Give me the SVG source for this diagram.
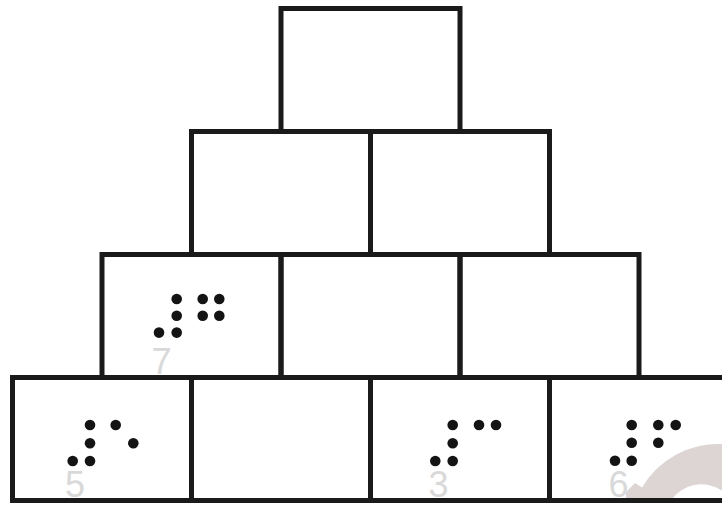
<svg xmlns="http://www.w3.org/2000/svg" width="722" height="505" viewBox="0 0 722 505">
  <style>
    .box { fill: none; stroke: #1a1a1a; stroke-width: 5; stroke-linejoin: miter; }
    .dot { fill: #141414; }
    .num { font-family: "Liberation Sans", Arial, sans-serif; font-size: 36px; fill: #d9d9d9; }
    .mark { fill: #ddd4d4; }
  </style>
  <defs>
    <circle id="d" r="5.3"/>
  </defs>
  <rect width="722" height="505" fill="#ffffff"/>

  <path class="mark" d="M626,501 L626,492 L635,483 L642,487.6 A88 88 0 0 1 722,444.1 L722,490.5 A37 37 0 0 0 670.5,501 Z"/>

  <g id="labels">
    <text class="num" x="151.5" y="374">7</text>
    <text class="num" x="65" y="497">5</text>
    <text class="num" x="428.5" y="497">3</text>
    <text class="num" x="608.5" y="497">6</text>
  </g>

  <g id="boxes">
    <g id="r1c1"><rect class="box" x="281" y="8.5" width="179" height="123"/></g>
    <g id="r2c1"><rect class="box" x="191.5" y="131.5" width="179" height="123"/></g>
    <g id="r2c2"><rect class="box" x="370.5" y="131.5" width="179" height="123"/></g>
    <g id="r3c1">
      <rect class="box" x="102" y="254.5" width="179" height="123"/>
      <g class="dot">
        <use href="#d" x="176.7" y="299"/><use href="#d" x="202.7" y="299"/><use href="#d" x="219.3" y="299"/>
        <use href="#d" x="176.7" y="315.8"/><use href="#d" x="202.7" y="315.8"/><use href="#d" x="219.3" y="315.8"/>
        <use href="#d" x="159" y="332.6"/><use href="#d" x="176.7" y="332.6"/>
      </g>
    </g>
    <g id="r3c2"><rect class="box" x="281" y="254.5" width="179" height="123"/></g>
    <g id="r3c3"><rect class="box" x="460" y="254.5" width="179" height="123"/></g>
    <g id="r4c1">
      <rect class="box" x="12.5" y="377.5" width="179" height="123"/>
      <g class="dot">
        <use href="#d" x="90" y="425"/><use href="#d" x="115.7" y="425"/>
        <use href="#d" x="90" y="443.2"/><use href="#d" x="133.3" y="443.2"/>
        <use href="#d" x="72.7" y="461"/><use href="#d" x="90" y="461"/>
      </g>
    </g>
    <g id="r4c2"><rect class="box" x="191.5" y="377.5" width="179" height="123"/></g>
    <g id="r4c3">
      <rect class="box" x="370.5" y="377.5" width="179" height="123"/>
      <g class="dot">
        <use href="#d" x="452.7" y="425"/><use href="#d" x="479" y="425"/><use href="#d" x="496" y="425"/>
        <use href="#d" x="452.7" y="443.2"/>
        <use href="#d" x="435.3" y="461"/><use href="#d" x="452.7" y="461"/>
      </g>
    </g>
    <g id="r4c4">
      <rect class="box" x="549.5" y="377.5" width="179" height="123"/>
      <g class="dot">
        <use href="#d" x="631.7" y="425"/><use href="#d" x="658.3" y="425"/><use href="#d" x="675.7" y="425"/>
        <use href="#d" x="631.7" y="442.8"/><use href="#d" x="658.3" y="442.8"/>
        <use href="#d" x="615" y="460.7"/><use href="#d" x="631.7" y="460.7"/>
      </g>
    </g>
  </g>
  <g id="connectors"/>
</svg>
